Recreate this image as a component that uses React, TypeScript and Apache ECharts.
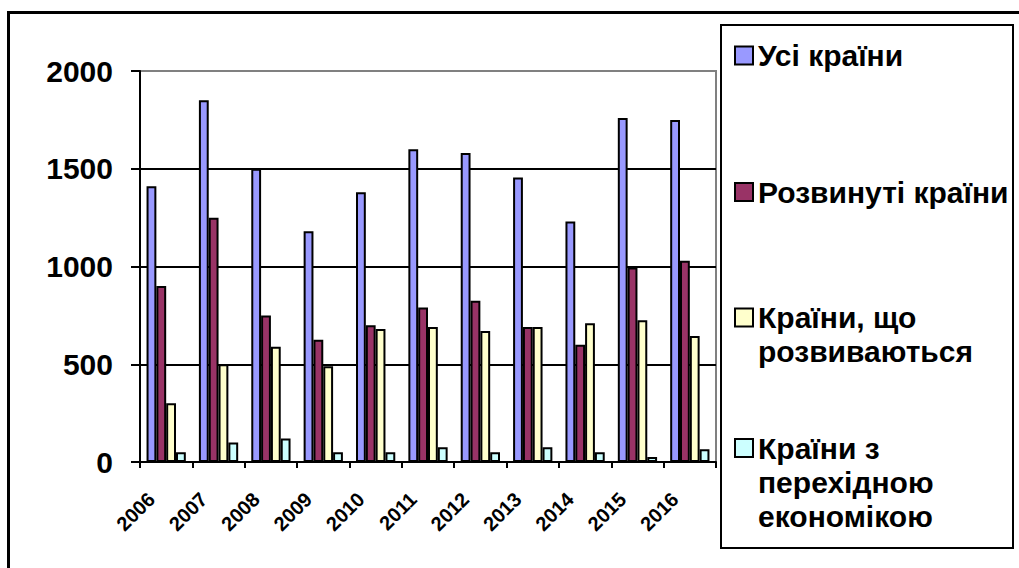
import React, { useEffect, useRef } from "react";
import * as echarts from "echarts";

const years = ["2006", "2007", "2008", "2009", "2010", "2011", "2012", "2013", "2014", "2015", "2016"];
const allCountries = [1410, 1850, 1500, 1180, 1380, 1600, 1580, 1455, 1230, 1760, 1750];
const developed = [900, 1250, 750, 625, 700, 790, 825, 690, 600, 995, 1030];
const developing = [300, 500, 590, 490, 680, 690, 670, 690, 710, 725, 645];
const transition = [50, 100, 120, 50, 50, 75, 50, 75, 50, 25, 65];

const seriesNames = ["Усі країни", "Розвинуті країни", "Країни, що розвиваються", "Країни з перехідною економікою"];
const legendLabels = ["Усі країни", "Розвинуті країни", "Країни, що\nрозвиваються", "Країни з\nперехідною\nекономікою"];
const seriesColors = ["#9999FF", "#993366", "#FFFFCC", "#CCFFFF"];
const seriesValues = [allCountries, developed, developing, transition];
const yTicks = [0, 500, 1000, 1500, 2000];

const FONT = "'Liberation Sans', Arial, sans-serif";

export default function App() {
  const ref = useRef<HTMLDivElement>(null);
  useEffect(() => {
    if (!ref.current) return;
    const chart = echarts.init(ref.current, null, { renderer: "svg" });
    const legendCenters = [55.5, 192, 317.5, 448];
    const legends = legendLabels.map((lab, i) => {
      const n = lab.split("\n").length;
      const padded = "\n".repeat(n - 1) + lab;
      return {
        orient: "vertical",
        left: 734,
        top: legendCenters[i] - (2 * n - 1) * 17,
        padding: 0,
        itemWidth: 18,
        itemHeight: 18,
        icon: "rect",
        data: [seriesNames[i]],
        formatter: () => padded,
        textStyle: {
          fontFamily: FONT,
          fontWeight: "bold",
          fontSize: 30,
          lineHeight: 34,
          color: "#000",
        },
      };
    });
    chart.setOption({
      animation: false,
      backgroundColor: "#fff",
      textStyle: { fontFamily: FONT },
      grid: {
        left: 140,
        right: 303,
        top: 71,
        bottom: 106,
        show: true,
        borderColor: "#808080",
        borderWidth: 2,
        backgroundColor: "transparent",
      },
      legend: legends,
      graphic: [
        {
          type: "rect",
          shape: { x: 8.5, y: 12.5, width: 1100, height: 700 },
          style: { fill: "none", stroke: "#000", lineWidth: 3 },
          silent: true,
          z: -1,
        },
        {
          type: "rect",
          shape: { x: 721, y: 25, width: 292, height: 523 },
          style: { fill: "none", stroke: "#000", lineWidth: 2 },
          silent: true,
          z: -1,
        },
      ],
      xAxis: {
        type: "category",
        data: years,
        boundaryGap: true,
        axisLine: { show: true, lineStyle: { color: "#000", width: 2 } },
        axisTick: { show: true, inside: false, length: 6, lineStyle: { color: "#000", width: 2 }, alignWithLabel: false },
        axisLabel: {
          interval: 0,
          rotate: 45,
          margin: 19,
          padding: [0, 21, 0, 0],
          fontFamily: FONT,
          fontWeight: "bold",
          fontSize: 20,
          color: "#000",
        },
        splitLine: { show: false },
      },
      yAxis: {
        type: "value",
        min: yTicks[0],
        max: yTicks[yTicks.length - 1],
        interval: 500,
        axisLine: { show: true, lineStyle: { color: "#000", width: 2 } },
        axisTick: { show: true, inside: false, length: 9, lineStyle: { color: "#000", width: 2 } },
        axisLabel: {
          margin: 27,
          fontFamily: FONT,
          fontWeight: "bold",
          fontSize: 30,
          color: "#000",
          formatter: (v: number) => String(v),
        },
        splitLine: { show: true, showMaxLine: false, lineStyle: { color: "#000", width: 2 } },
      },
      series: seriesNames.map((name, i) => ({
        name,
        type: "bar",
        data: seriesValues[i],
        barGap: "0%",
        barCategoryGap: "25%",
        itemStyle: { color: seriesColors[i], borderColor: "#000", borderWidth: 2 },
      })),
    });
    return () => chart.dispose();
  }, []);
  return <div ref={ref} style={{ position: "absolute", left: 0, top: 0, width: 1019, height: 568 }} />;
}
